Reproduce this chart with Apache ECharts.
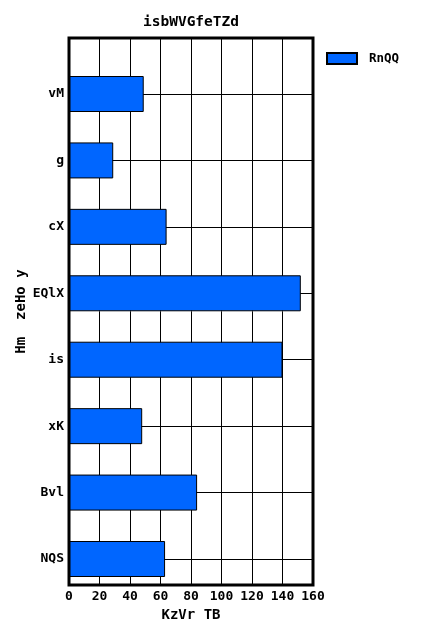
<!DOCTYPE html>
<html>
<head>
<meta charset="utf-8">
<script src="https://cdn.jsdelivr.net/npm/echarts@6/dist/echarts.min.js"></script>
<style>
    html, body { margin: 0; padding: 0; background: #fff; }
    #chart { width: 426px; height: 639px; }
</style>
</head>
<body>
<div id="chart"></div>
<script>
    var categories = ['vM', 'g', 'cX', 'EQlX', 'is', 'xK', 'Bvl', 'NQS'];
    var values = [49, 29, 64, 152, 140, 48, 84, 63];
    var xTicks = [0, 160, 20];

    var font = 'DejaVu Sans Mono';
    var chart = echarts.init(document.getElementById('chart'));

    var option = {
        animation: false,
        backgroundColor: '#fff',
        title: {
            text: 'isbWVGfeTZd',
            left: 191,
            textAlign: 'center',
            top: 15,
            padding: 0,
            textStyle: { fontFamily: font, fontWeight: 'bold', fontSize: 14.5, color: '#000' }
        },
        legend: {
            data: ['RnQQ'],
            icon: 'rect',
            left: 326,
            top: 52,
            padding: 0,
            itemWidth: 30,
            itemHeight: 11,
            textStyle: { fontFamily: font, fontWeight: 'bold', fontSize: 12.5, color: '#000', padding: [0, 0, 0, 7] }
        },
        grid: [
            // frame + x axis
            { left: 69, right: 113, top: 38, bottom: 54, show: true, borderColor: '#000', borderWidth: 3, z: 5 },
            // bars
            { left: 69, right: 113, top: 94, bottom: 80 }
        ],
        xAxis: [{
            gridIndex: 0,
            type: 'value',
            min: xTicks[0],
            max: xTicks[1],
            interval: xTicks[2],
            name: 'KzVr TB',
            nameLocation: 'middle',
            nameGap: 22,
            nameTextStyle: { fontFamily: font, fontWeight: 'bold', fontSize: 14, color: '#000' },
            axisLine: { show: false },
            axisTick: { show: false },
            axisLabel: { fontFamily: font, fontWeight: 'bold', fontSize: 13, color: '#000', margin: 5 },
            splitLine: { show: true, lineStyle: { color: '#000', width: 1 } }
        }, {
            gridIndex: 1,
            type: 'value',
            min: xTicks[0],
            max: xTicks[1],
            show: false
        }],
        yAxis: [{
            gridIndex: 0,
            type: 'value',
            name: 'Hm  zeHo y',
            nameLocation: 'middle',
            nameGap: 41,
            nameTextStyle: { fontFamily: font, fontWeight: 'bold', fontSize: 14, color: '#000' },
            axisLine: { show: false },
            axisTick: { show: false },
            axisLabel: { show: false },
            splitLine: { show: false }
        }, {
            gridIndex: 1,
            type: 'category',
            data: categories,
            inverse: true,
            boundaryGap: false,
            axisLine: { show: false },
            axisTick: { show: false },
            axisLabel: { fontFamily: font, fontWeight: 'bold', fontSize: 13, color: '#000', margin: 5 },
            splitLine: { show: true, lineStyle: { color: '#000', width: 1 } }
        }],
        series: [{
            name: 'RnQQ',
            type: 'bar',
            xAxisIndex: 1,
            yAxisIndex: 1,
            data: values,
            barWidth: 36,
            clip: false,
            itemStyle: { color: '#0066ff', borderColor: '#000', borderWidth: 1 }
        }]
    };

    chart.setOption(option);
</script>
</body>
</html>
